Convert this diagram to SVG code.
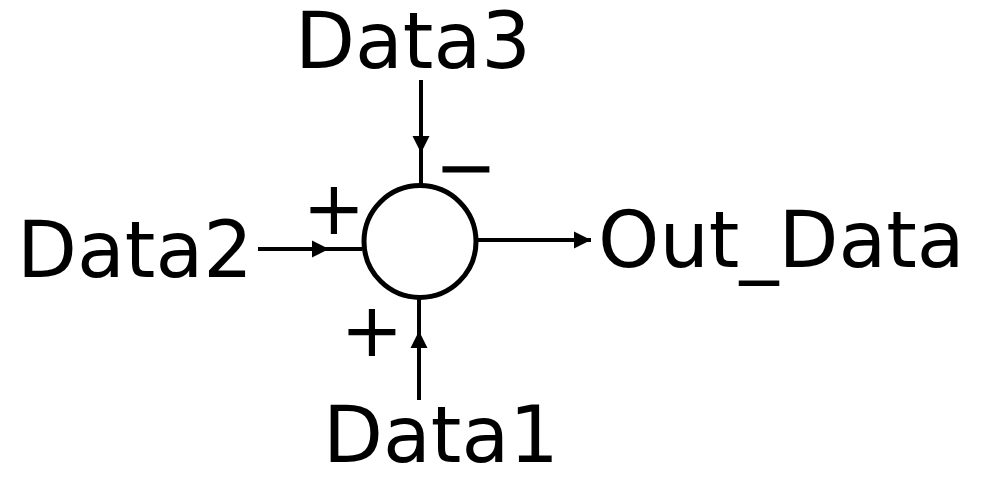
<svg xmlns="http://www.w3.org/2000/svg" width="1002" height="483" viewBox="0 0 1002 483">
<defs>
<style>
text{font-family:"DejaVu Sans",Verdana,sans-serif;font-size:78px;fill:#000}
.sg{font-size:75px}
.ln{stroke:#000;stroke-width:4;fill:none}
</style>
<marker id="ah" markerWidth="18" markerHeight="18" viewBox="0 0 18 18" refX="17" refY="9" orient="auto" markerUnits="userSpaceOnUse">
<path d="M0,0.5 L17,9 L0,17.5 Z" fill="#000"/>
</marker>
</defs>
<rect width="1002" height="483" fill="#fff"/>
<g id="connectors">
<line class="ln" x1="258" y1="249" x2="329" y2="249" marker-end="url(#ah)"/>
<line class="ln" x1="326" y1="249" x2="362" y2="249"/>
<line class="ln" x1="421" y1="80" x2="421" y2="153" marker-end="url(#ah)"/>
<line class="ln" x1="421" y1="150" x2="421" y2="186"/>
<line class="ln" x1="419" y1="400" x2="419" y2="331" marker-end="url(#ah)"/>
<line class="ln" x1="419" y1="334" x2="419" y2="298"/>
<line class="ln" x1="478" y1="240" x2="591" y2="240" marker-end="url(#ah)"/>
</g>
<g id="sum">
<circle cx="420" cy="241.5" r="56" fill="#fff" stroke="#000" stroke-width="5"/>
<text class="sg" x="334" y="234" text-anchor="middle">+</text>
<text class="sg" x="466" y="193" text-anchor="middle">−</text>
<text class="sg" x="372" y="356" text-anchor="middle">+</text>
</g>
<g id="data3"><text x="295" y="68">Data3</text></g>
<g id="data2"><text x="17" y="277">Data2</text></g>
<g id="data1"><text x="323" y="462">Data1</text></g>
<g id="out"><text x="598" y="267">Out_Data</text></g>
</svg>
